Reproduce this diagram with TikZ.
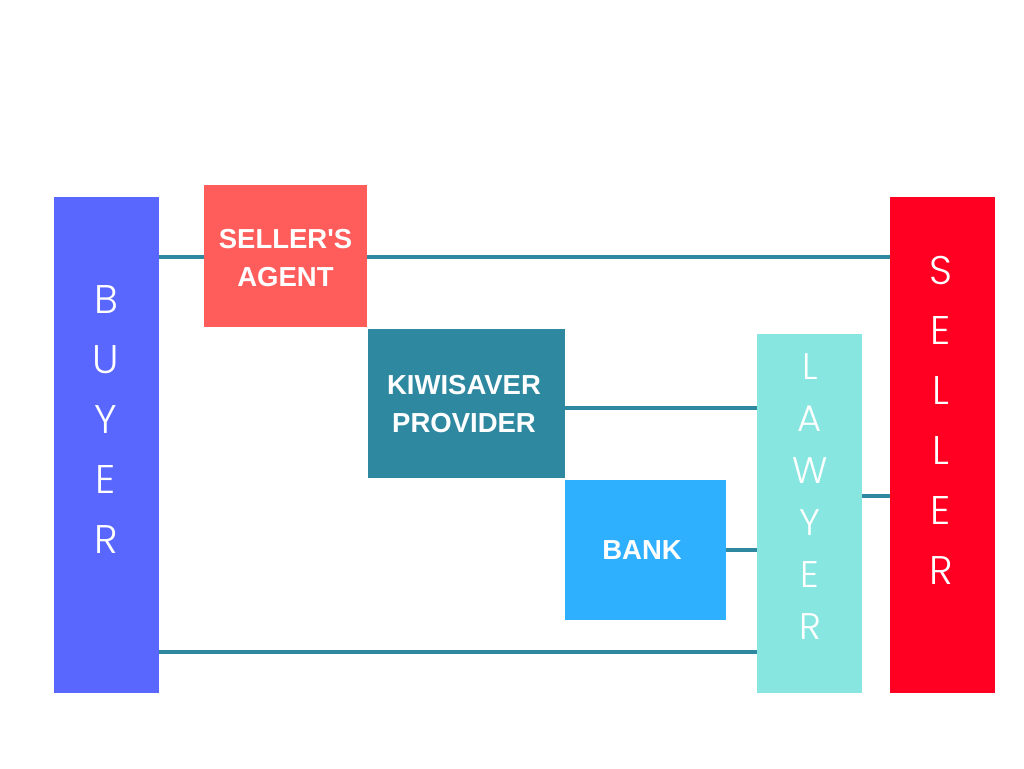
\documentclass[tikz,border=0pt]{standalone}
\usepackage{fontspec}
\setmainfont{Liberation Sans}
\newfontfamily\thinfont{Poppins Light}
\usetikzlibrary{backgrounds}
\definecolor{buyerc}{HTML}{5A67FF}
\definecolor{agentc}{HTML}{FF5C5C}
\definecolor{kiwic}{HTML}{2E89A0}
\definecolor{bankc}{HTML}{2EB0FF}
\definecolor{lawyerc}{HTML}{88E6E0}
\definecolor{sellerc}{HTML}{FF0022}
\definecolor{linec}{HTML}{2E89A0}
\tikzset{
  box/.style={rectangle, inner sep=0pt, draw=none, text=white},
  boxlabel/.style={text=white, align=center, font=\fontsize{27.5}{38}\selectfont\bfseries},
  vlabel/.style={text=white, align=center, inner sep=0pt},
  link/.style={draw=linec, line width=4pt}
}
\begin{document}
\begin{tikzpicture}[x=1pt,y=-1pt]
\useasboundingbox (0,0) rectangle (1024,768);
\node[box, fill=buyerc, minimum width=105pt, minimum height=496pt] (buyer) at (106.5,445) {};
\node[box, fill=agentc, minimum width=163pt, minimum height=142pt] (agent) at (285.5,256) {};
\node[box, fill=kiwic, minimum width=197pt, minimum height=149pt] (kiwi) at (466.5,403.5) {};
\node[box, fill=bankc, minimum width=161pt, minimum height=140pt] (bank) at (645.5,550) {};
\node[box, fill=lawyerc, minimum width=105pt, minimum height=359pt] (lawyer) at (809.5,513.5) {};
\node[box, fill=sellerc, minimum width=105pt, minimum height=496pt] (seller) at (942.5,445) {};

\node[boxlabel] (agentlabel) at (285.5,258) {SELLER\textquotesingle S\\AGENT};
\node[boxlabel] (kiwilabel) at (464,404) {KIWISAVER\\PROVIDER};
\node[boxlabel] (banklabel) at (642,550) {BANK};

\node[vlabel, font=\thinfont\fontsize{40}{60}\selectfont] (buyerlabel) at (106,420) {B\\U\\Y\\E\\R};
\node[vlabel, font=\thinfont\fontsize{37}{52}\selectfont] (lawyerlabel) at (810,497) {L\\A\\W\\Y\\E\\R};
\node[vlabel, font=\thinfont\fontsize{40}{60}\selectfont] (sellerlabel) at (941,420) {S\\E\\L\\L\\E\\R};

\coordinate (c1) at (0,257);
\coordinate (c2) at (0,408);
\coordinate (c3) at (0,496);
\coordinate (c4) at (0,652);
\begin{scope}[on background layer]
\draw[link] (buyer.east |- c1) -- (seller.west |- c1);
\draw[link] (kiwi.east |- c2) -- (lawyer.west |- c2);
\draw[link] (bank.east) -- (lawyer.west |- bank.east);
\draw[link] (lawyer.east |- c3) -- (seller.west |- c3);
\draw[link] (buyer.east |- c4) -- (lawyer.west |- c4);
\end{scope}
\end{tikzpicture}
\end{document}
